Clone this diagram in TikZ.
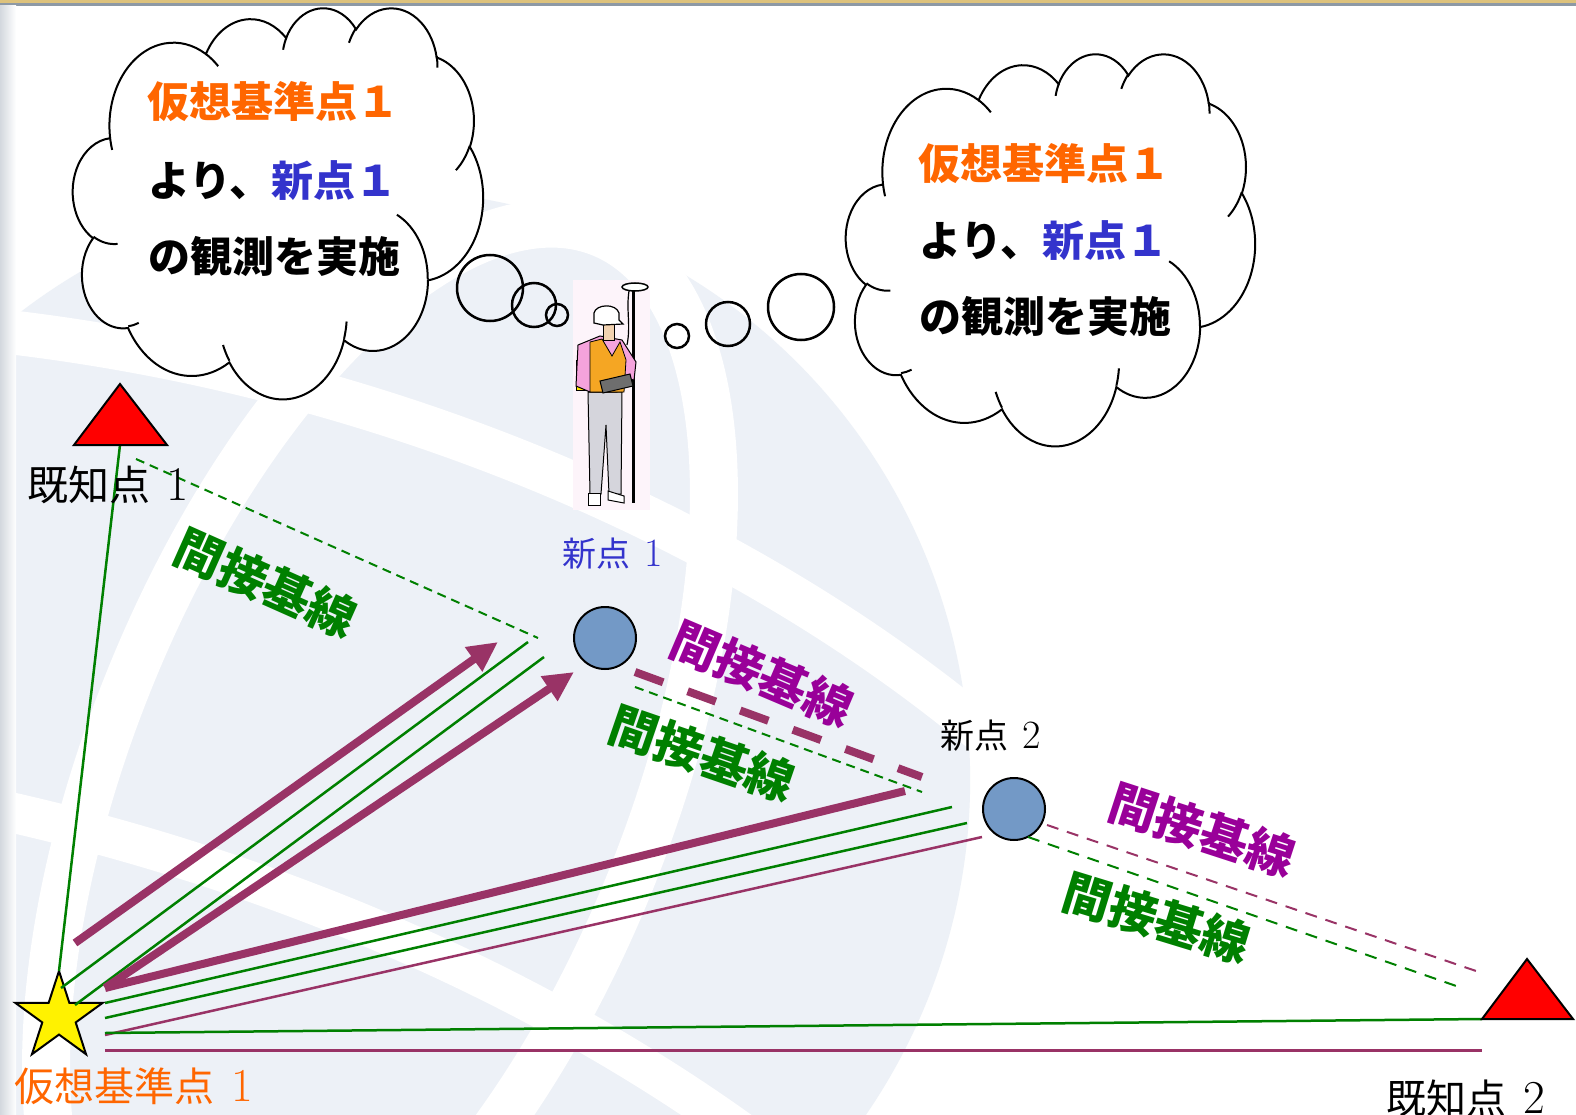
\documentclass[tikz,border=0pt]{standalone}
\usepackage{fontspec}
\newfontfamily\jp{Noto Sans CJK JP}
\usetikzlibrary{arrows.meta,calc,shapes.geometric}

\definecolor{orng}{HTML}{FF6600}
\definecolor{blu}{HTML}{3333CC}
\definecolor{grn}{HTML}{008000}
\definecolor{mrn}{HTML}{993366}
\definecolor{prp}{HTML}{990099}
\definecolor{ptfill}{HTML}{7399C6}
\definecolor{wmark}{HTML}{EDF1F7}
\definecolor{gold}{HTML}{DDC27C}
\definecolor{bargrey}{HTML}{8D99A5}
\definecolor{edgegrey}{HTML}{D3D8DE}
\definecolor{figbg}{HTML}{FDF4FA}
\definecolor{shirtpink}{HTML}{F5A3DC}
\definecolor{vestorange}{HTML}{F5A623}
\definecolor{skin}{HTML}{F2D2B0}
\definecolor{pantsgrey}{HTML}{D5D5DC}
\definecolor{tabgrey}{HTML}{6E6E6E}
\definecolor{packyellow}{HTML}{FFE600}

% elliptical arc whose start and sweep are given as visual angles
\newcommand\carc[4]{arc[start angle={atan2((#1)*sin(#3),(#2)*cos(#3))},
  delta angle={mod(atan2((#1)*sin((#3)+(#4)),(#2)*cos((#3)+(#4)))-atan2((#1)*sin(#3),(#2)*cos(#3))-(#4)+1260,360)-180+(#4)},
  x radius=#1, y radius=#2]}

% cloud outline in a 432 x 432 box, placed at (#1,#2) with size #3 x #4
\newcommand\thoughtcloud[4]{%
  \begin{scope}[shift={(#1,#2)}, xscale=#3/432, yscale=#4/432]
    \filldraw[fill=white, draw=black, line width=2pt] (39.00,143.70)
      \carc{67.53}{91.90}{-190.48748}{123.78053}
      \carc{53.33}{72.67}{-144.10238}{89.94523}
      \carc{43.65}{59.45}{-145.80792}{99.72302}
      \carc{48.57}{65.95}{-130.98607}{117.24173}
      \carc{53.33}{72.73}{-78.70888}{109.02692}
      \carc{67.75}{92.20}{-46.26725}{130.269}
      \carc{57.85}{78.67}{0.62502}{114.03333}
      \carc{67.52}{92.15}{22.4516}{115.17255}
      \carc{77.20}{105.43}{66.24263}{75.71102}
      \carc{43.60}{59.18}{-274.94208}{146.73557}
      \carc{43.45}{59.45}{-246.8285}{152.51885} -- cycle;
    \draw[black, line width=2pt]
      (46.93,261.77) \carc{43.45}{59.45}{86.742}{26.4295}
      (69.28,348.99) \carc{43.60}{59.18}{73.61047}{11.44747}
      (164.78,390.90) \carc{67.52}{92.15}{137.62415}{14.0811}
      (288.27,347.51) \carc{67.52}{92.15}{6.45327}{15.99835}
      (341.29,229.54) \carc{57.85}{78.67}{-70.29235}{70.91737}
      (417.98,153.54) \carc{53.33}{72.73}{30.31803}{27.7515}
      (383.24,54.26) \carc{48.57}{65.95}{-13.74433}{14.8589}
      (290.78,39.52) \carc{48.57}{65.95}{-149.18145}{18.19537}
      (221.41,47.20) \carc{43.65}{59.45}{-163.49427}{17.68635}
      (140.00,51.92) \carc{67.53}{91.90}{-66.70695}{12.31935}
      (41.27,157.89) \carc{67.53}{91.90}{157.65435}{11.85817};
  \end{scope}}

% serif numeral, slightly enlarged, after a gap of #1 em
\newcommand\dg[2]{\hspace{#1em}\scalebox{1.18}{\rmfamily #2}}

\begin{document}
\begin{tikzpicture}[x=1pt, y=-1pt,
  gline/.style={draw=grn, line width=2.5pt},
  mthin/.style={draw=mrn, line width=2.5pt},
  mthick/.style={draw=mrn, line width=8pt},
  marrow/.style={mthick, -{Triangle[length=30pt,width=28pt]}},
  gdash/.style={draw=grn, line width=2pt, dash pattern=on 9pt off 6pt},
  gdashlong/.style={draw=grn, line width=2pt, dash pattern=on 12pt off 9pt},
  mdash/.style={draw=mrn, line width=2pt, dash pattern=on 12pt off 9pt},
  mdashthick/.style={draw=mrn, line width=8pt, dash pattern=on 30pt off 26pt},
  newpt/.style={circle, draw=black, line width=2pt, fill=ptfill, minimum size=62pt, inner sep=0pt},
  knownpt/.style={fill=red, draw=black, line width=2pt, line join=miter},
  bubble/.style={draw=black, line width=2.5pt},
  baselbl/.style={font=\jp\bfseries\fontsize{48}{48}\selectfont, inner sep=0pt},
  cloudtxt/.style={font=\jp\bfseries\fontsize{42}{42}\selectfont, inner sep=0pt, anchor=west},
  ptlbl/.style={inner sep=0pt, anchor=west}]

\useasboundingbox (0,0) rectangle (1576,1115);
\fill[white] (0,0) rectangle (1576,1115);

% faint globe emblem in the background
\begin{scope}
  \clip (0,6) rectangle (1576,1115);
  \begin{scope}[shift={(380,780)}, rotate=-22]
    \fill[wmark] (0,0) circle[radius=590];
    \draw[white, line width=48pt] (0,0) ellipse[x radius=270, y radius=590];
    \draw[white, line width=44pt] (-600,-250) .. controls (-200,-380) and (250,-380) .. (600,-250);
    \draw[white, line width=40pt] (-600,230) .. controls (-200,110) and (250,110) .. (600,230);
  \end{scope}
\end{scope}

% frame: top bar and shaded left edge
\fill[gold] (0,0) rectangle (1576,3.3);
\fill[bargrey] (0,3.3) rectangle (1576,6);
\shade[left color=edgegrey, right color=white] (0,6) rectangle (16,1115);

% points
\node[star, star points=5, star point ratio=2.618, minimum size=92pt, inner sep=0pt,
      outer sep=0pt, draw=black, line width=2pt, fill=yellow] (vrs) at (59,1017) {};
\coordinate (k1) at (120,445);
\coordinate (k2) at (1527,1019);
\node[newpt] (n1) at (605,638) {};
\node[newpt] (n2) at (1014,809) {};

% baselines from the virtual reference point
\draw[gline] (vrs.north) -- (k1);
\draw[marrow] ($(vrs)+(16,-74)$) -- ($(n1)+(-107,4)$);
\draw[gline] ($(vrs)+(2,-29)$) -- ($(n1)+(-77,4)$);
\draw[gline] ($(vrs)+(16,-12)$) -- ($(n1)+(-61,19)$);
\draw[marrow] ($(vrs)+(46,-29)$) -- ($(n1)+(-31,34)$);
\draw[mthick] ($(vrs)+(46,-29)$) -- ($(n2)+(-109,-18)$);
\draw[gline] ($(vrs)+(46,-14)$) -- ($(n2)+(-62,-2)$);
\draw[gline] ($(vrs)+(46,1)$) -- ($(n2)+(-47,14)$);
\draw[mthin] ($(vrs)+(46,18)$) -- ($(n2)+(-32,28)$);
\draw[gline] ($(vrs)+(46,16)$) -- ($(k2)+(-45,0)$);
\draw[draw=mrn, line width=3pt] ($(vrs)+(46,33)$) -- ($(k2)+(-45,31)$);

% indirect baselines
\draw[gdash] ($(k1)+(16,14)$) -- ($(n1)+(-67,0)$);
\draw[mdashthick] ($(n1)+(30,34)$) -- ($(n2)+(-92,-32)$);
\draw[gdash] ($(n1)+(30,49)$) -- ($(n2)+(-92,-17)$);
\draw[mdash] ($(n2)+(33,16)$) -- ($(k2)+(-45,-46)$);
\draw[gdashlong] ($(n2)+(14,28)$) -- ($(k2)+(-65,-31)$);

% known points
\filldraw[knownpt] ($(k1)+(-46,0)$) -- ($(k1)+(0,-61)$) -- ($(k1)+(47,0)$) -- cycle;
\filldraw[knownpt] ($(k2)+(-45,0)$) -- ($(k2)+(0,-60)$) -- ($(k2)+(46,0)$) -- cycle;

% baseline captions
\node[baselbl, text=grn, rotate=-24] (b1) at (266,583) {間接基線};
\node[baselbl, text=prp, rotate=-23] (b2) at (762,674) {間接基線};
\node[baselbl, text=grn, rotate=-19] (b3) at (702,754) {間接基線};
\node[baselbl, text=prp, rotate=-18] (b4) at (1202,830) {間接基線};
\node[baselbl, text=grn, rotate=-17] (b5) at (1157,918) {間接基線};

% point labels
\node[ptlbl, font=\jp\fontsize{41}{41}\selectfont] (k1l) at (27,485) {既知点\dg{0.4}{1}};
\node[ptlbl, font=\jp\fontsize{40}{40}\selectfont, text=orng] (vrsl) at (14,1086) {仮想基準点\dg{0.42}{1}};
\node[ptlbl, font=\jp\fontsize{40}{40}\selectfont] (k2l) at (1386,1098) {既知点\dg{0.42}{2}};
\node[ptlbl, font=\jp\fontsize{34}{34}\selectfont, text=blu] (n1l) at (562,554) {新点\dg{0.42}{1}};
\node[ptlbl, font=\jp\fontsize{34}{34}\selectfont] (n2l) at (940,736) {新点\dg{0.42}{2}};

% thought clouds
\thoughtcloud{73}{7}{410}{391}
\thoughtcloud{846}{53}{409}{392}
\draw[bubble] (490,288) circle[radius=33];
\draw[bubble] (534,305) circle[radius=22];
\draw[bubble] (557,315) circle[radius=11];
\draw[bubble] (677,336) circle[radius=12];
\draw[bubble] (728,324) circle[radius=22];
\draw[bubble] (801,307) circle[radius=33];

\node[cloudtxt, text=orng] (la) at (147,102) {仮想基準点１};
\node[cloudtxt] (lb) at (148,181) {より、\textcolor{blu}{新点１}};
\node[cloudtxt] (lc) at (148,257) {の観測を実施};
\node[cloudtxt, text=orng] (ra) at (918,164) {仮想基準点１};
\node[cloudtxt] (rb) at (919,241) {より、\textcolor{blu}{新点１}};
\node[cloudtxt] (rc) at (919,317) {の観測を実施};

% surveyor with GNSS pole
\fill[figbg] (573,280) rectangle (650,510);
\draw[line width=3pt] (633,289) -- (633,503);
\filldraw[fill=white, line width=1.5pt] (635,287) ellipse[x radius=13, y radius=4];
\draw[line width=1.2pt] (629,291) .. controls (626,310) and (631,325) .. (627,345);
\filldraw[fill=packyellow, line width=1pt] (576,360) rectangle (587,390);
\filldraw[fill=pantsgrey, line width=1pt] (588,392) -- (622,392) -- (621,494) -- (609,494)
  -- (606,425) -- (601,494) -- (590,494) -- cycle;
\filldraw[fill=white, line width=1pt] (588,493) rectangle (600,505);
\filldraw[fill=white, line width=1pt] (608,491) -- (624,496) -- (624,503) -- (608,500) -- cycle;
\filldraw[fill=shirtpink, line width=1pt] (578,345) -- (600,336) -- (622,340) -- (636,362)
  -- (634,380) -- (622,378) -- (617,392) -- (590,392) -- (576,386) -- cycle;
\filldraw[fill=vestorange, line width=0.8pt] (590,342) -- (602,339) -- (612,356) -- (620,342)
  -- (626,360) -- (624,392) -- (590,392) -- cycle;
\filldraw[fill=tabgrey, line width=1pt] (600,381) -- (630,374) -- (633,386) -- (603,393) -- cycle;
\filldraw[fill=skin, line width=1pt] (603,322) rectangle (614,340);
\filldraw[fill=white, line width=1.2pt] (594,323) -- (594,313) .. controls (596,304) and (616,303)
  .. (619,313) -- (619,320) -- (623,324) -- (603,325) -- cycle;

\end{tikzpicture}
\end{document}
